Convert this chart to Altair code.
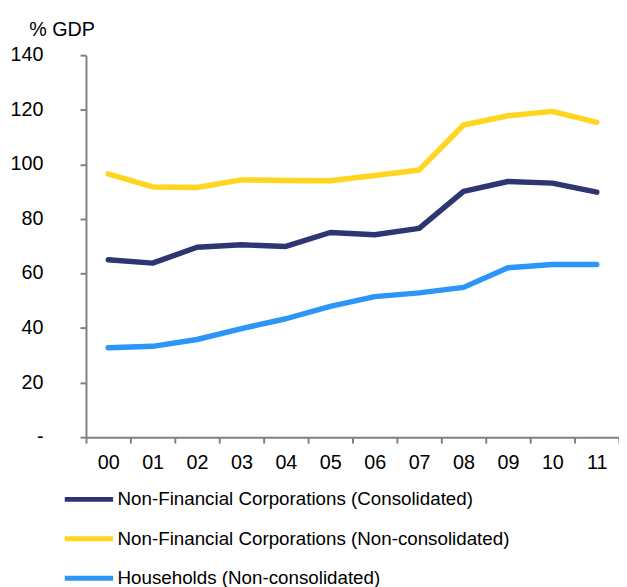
import altair as alt
import pandas as pd

years = ["00", "01", "02", "03", "04", "05", "06", "07", "08", "09", "10", "11"]
nfc_consolidated = [65.0, 63.8, 69.6, 70.5, 69.9, 75.0, 74.2, 76.5, 90.1, 93.7, 93.1, 89.8]
nfc_nonconsolidated = [96.5, 91.7, 91.5, 94.3, 94.1, 94.0, 95.9, 97.9, 114.4, 117.8, 119.4, 115.4]
households = [32.8, 33.3, 35.8, 39.8, 43.4, 47.9, 51.5, 52.9, 54.9, 62.1, 63.3, 63.3]

y_tick_values = [0, 20, 40, 60, 80, 100, 120, 140]
y_tick_labels = ["-\u00a0\u00a0", "20", "40", "60", "80", "100", "120", "140"]

series_names = [
    "Non-Financial Corporations (Consolidated)",
    "Non-Financial Corporations (Non-consolidated)",
    "Households (Non-consolidated)",
]
series_colors = ["#2E3573", "#FFD520", "#2B96F8"]

rows = []
for name, vals in zip(series_names, [nfc_consolidated, nfc_nonconsolidated, households]):
    for y, v in zip(years, vals):
        rows.append({"year": y, "value": v, "series": name})
df = pd.DataFrame(rows)
ticks_df = pd.DataFrame({"value": y_tick_values, "label": y_tick_labels})

font = "Liberation Sans"
y_scale = alt.Scale(domain=[0, 140], nice=False, zero=True)

lines = alt.Chart(df).mark_line(strokeWidth=5.5, strokeCap="round", strokeJoin="round").encode(
    x=alt.X(
        "year:O",
        sort=years,
        scale=alt.Scale(type="band", paddingInner=0, paddingOuter=0),
        axis=alt.Axis(
            title=None,
            labelAngle=0,
            tickBand="extent",
            domainColor="#808080",
            domainWidth=2,
            tickColor="#808080",
            tickWidth=2,
            tickSize=6,
            labelPadding=10,
            labelFontSize=20,
            labelColor="#000000",
            labelFont=font,
            grid=False,
        ),
    ),
    y=alt.Y(
        "value:Q",
        scale=y_scale,
        axis=alt.Axis(
            title="% GDP",
            titleAngle=0,
            titleX=-58,
            titleY=-20,
            titleAlign="left",
            titleBaseline="alphabetic",
            titleFont=font,
            titleFontSize=20,
            titleFontWeight="normal",
            titleColor="#000000",
            values=y_tick_values,
            labels=False,
            domainColor="#808080",
            domainWidth=2,
            tickColor="#808080",
            tickWidth=2,
            tickSize=6,
            grid=False,
        ),
    ),
    color=alt.Color(
        "series:N",
        sort=series_names,
        scale=alt.Scale(domain=series_names, range=series_colors),
        legend=alt.Legend(
            title=None,
            orient="none",
            legendX=-24,
            legendY=430,
            direction="vertical",
            symbolType="stroke",
            symbolSize=2401,
            symbolStrokeWidth=5,
            clipHeight=40,
            rowPadding=-1,
            labelOffset=2,
            labelFontSize=19,
            labelFont=font,
            labelColor="#000000",
            labelLimit=0,
            padding=0,
        ),
    ),
)

tick_text = alt.Chart(ticks_df).mark_text(
    align="right", baseline="middle", font=font, fontSize=20, color="#000000"
).encode(
    y=alt.Y("value:Q", scale=y_scale, axis=None),
    x=alt.value(-43),
    text="label:N",
)

chart = alt.layer(lines, tick_text).resolve_axis(y="independent").properties(
    width=540,
    height=387,
    autosize=alt.AutoSizeParams(type="none"),
    padding={"left": 79, "top": 44, "right": 0, "bottom": 148},
).configure_view(stroke=None)

chart.save("out.html", embed_options={"renderer": "svg", "actions": False})
